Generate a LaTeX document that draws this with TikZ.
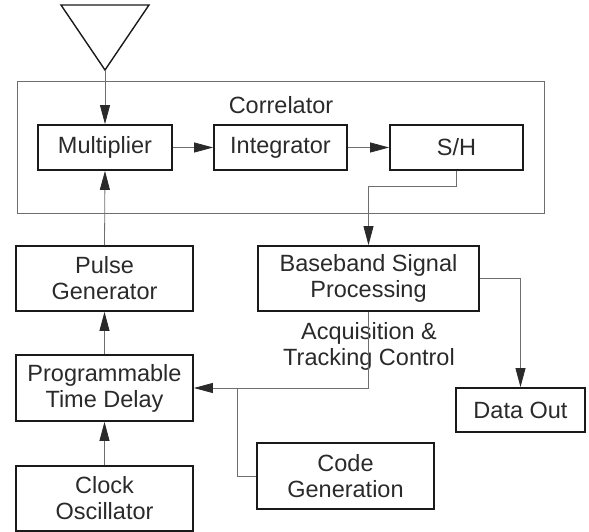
\documentclass[tikz,border=0pt]{standalone}
\usepackage{fontspec}
\setmainfont{Liberation Sans}
\usepackage{xcolor}
\usepackage{tikz}
\usetikzlibrary{arrows.meta, positioning}
\definecolor{boxline}{HTML}{1A1A1A}
\definecolor{wire}{HTML}{6E6E6E}
\definecolor{darkgray}{HTML}{2A2A2A}
\tikzset{
  block/.style={
    rectangle, draw=boxline, line width=1.8pt,
    inner sep=0pt, align=center, text=darkgray,
    font=\fontsize{23.5}{26}\selectfont,
  },
  frame/.style={rectangle, draw=wire, line width=0.8pt, inner sep=0pt},
  arrow/.style={-{Triangle[length=19pt,width=10pt,color=darkgray]}, line width=0.8pt, color=wire},
  wireline/.style={line width=0.8pt, color=wire},
  label/.style={align=center, text=darkgray, font=\fontsize{23.5}{26}\selectfont},
}

\begin{document}
\begin{tikzpicture}[x=1pt,y=-1pt]
  \useasboundingbox (0,0) rectangle (589,532);
  % antenna
  \draw[boxline,line width=1.4pt,line join=miter] (61,5) -- (149,5) -- (105,70) -- cycle;
  \coordinate (ant) at (105,70);
  % correlator
  \node[frame,minimum width=527pt,minimum height=132pt] (corr) at (280.5,147) {};
  \node[label] (corrlabel) at (281,105) {Correlator};
  \node[block,minimum width=134pt,minimum height=45pt] (mult) at (105,147.5) {Multiplier};
  \node[block,minimum width=133pt,minimum height=45pt] (integ) at (280.5,147.5) {Integrator};
  \node[block,minimum width=133pt,minimum height=45pt] (sh) at (456.5,147.5) {S/H};
  % left column
  \node[block,minimum width=177pt,minimum height=65pt] (pulse) at (104.5,278.5) {Pulse\\Generator};
  \node[block,minimum width=177pt,minimum height=66pt] (delay) at (104.5,388) {Programmable\\Time Delay};
  \node[block,minimum width=177pt,minimum height=65pt] (clock) at (104.5,498.5) {Clock\\Oscillator};
  % right side
  \node[block,minimum width=221pt,minimum height=65pt] (baseband) at (368.5,278.5) {Baseband Signal\\Processing};
  \node[label] (acq) at (369,346) {Acquisition \&\\Tracking Control};
  \node[block,minimum width=129pt,minimum height=44pt] (dataout) at (520.5,410) {Data Out};
  \node[block,minimum width=177pt,minimum height=66pt] (codegen) at (345.5,476) {Code\\Generation};
  \coordinate (tap) at (237,388);
  % connectors
  \draw[arrow] (ant) -- (mult.north);
  \draw[arrow] (mult) -- (integ);
  \draw[arrow] (integ) -- (sh);
  \draw[arrow] (sh.south) -- ++(0,15) -| (baseband.north);
  \draw[arrow] (baseband.east) -| (dataout.north);
  \draw[arrow] (baseband.south) |- (delay.east);
  \draw[wireline] (tap) |- (codegen.west);
  \draw[arrow] (pulse.north) -- (mult.south);
  \draw[arrow] (delay) -- (pulse);
  \draw[arrow] (clock) -- (delay);
\end{tikzpicture}
\end{document}
